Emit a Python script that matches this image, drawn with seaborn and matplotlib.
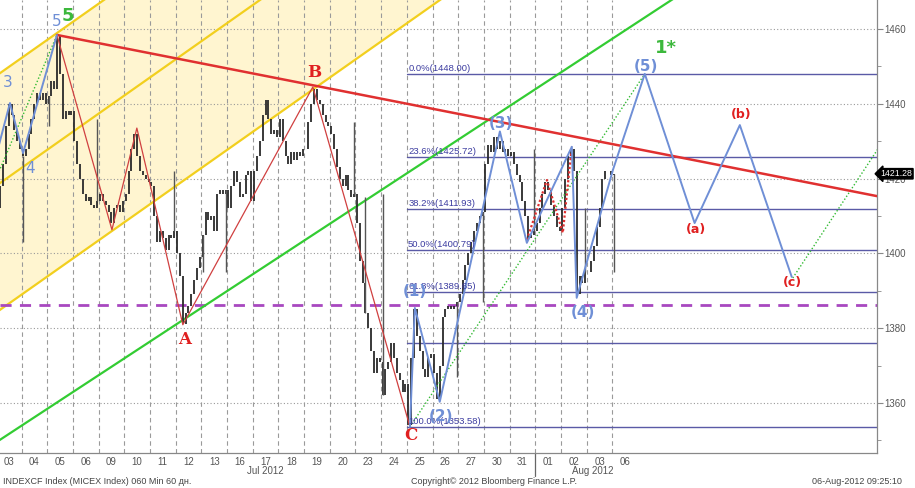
import matplotlib
matplotlib.use("Agg")
import matplotlib.pyplot as plt
import matplotlib.transforms as mtransforms
import seaborn as sns
import pandas as pd

# trading days (hourly bars, 9 per day)
day_labels = ['03', '04', '05', '06', '09', '10', '11', '12', '13', '16', '17', '18', '19',
              '20', '23', '24', '25', '26', '27', '30', '31', '01', '02', '03', '06']
closes = [
    [1412, 1418, 1424, 1434, 1440, 1437, 1433, 1430, 1428],
    [1426, 1428, 1432, 1436, 1440, 1443, 1441, 1443, 1440],
    [1442, 1446, 1444, 1458, 1448, 1436, 1438, 1437, 1438],
    [1430, 1424, 1420, 1416, 1414, 1415, 1413, 1412, 1414],
    [1416, 1414, 1413, 1411, 1408, 1412, 1413, 1411, 1414],
    [1416, 1422, 1428, 1432, 1426, 1422, 1421, 1420, 1419],
    [1418, 1410, 1403, 1406, 1404, 1401, 1405, 1404, 1406],
    [1400, 1394, 1381, 1384, 1386, 1389, 1393, 1396, 1399],
    [1405, 1411, 1409, 1410, 1406, 1416, 1417, 1416, 1417],
    [1412, 1418, 1422, 1419, 1415, 1416, 1421, 1422, 1414],
    [1422, 1426, 1430, 1437, 1441, 1436, 1432, 1433, 1431],
    [1436, 1430, 1426, 1424, 1427, 1425, 1427, 1426, 1428],
    [1428, 1435, 1440, 1444, 1441, 1440, 1437, 1435, 1434],
    [1432, 1428, 1423, 1420, 1418, 1421, 1417, 1415, 1416],
    [1408, 1398, 1392, 1384, 1380, 1374, 1368, 1372, 1371],
    [1362, 1369, 1371, 1376, 1372, 1368, 1366, 1363, 1365],
    [1354, 1372, 1385, 1378, 1374, 1369, 1367, 1372, 1373],
    [1368, 1361, 1370, 1383, 1385, 1386, 1385, 1386, 1387],
    [1389, 1393, 1397, 1400, 1403, 1406, 1408, 1410, 1411],
    [1424, 1429, 1427, 1431, 1428, 1430, 1427, 1428, 1426],
    [1427, 1424, 1421, 1419, 1414, 1410, 1404, 1405, 1406],
    [1408, 1412, 1416, 1419, 1417, 1413, 1410, 1407, 1406],
    [1412, 1420, 1426, 1428, 1422, 1389, 1394, 1392, 1395],
    [1395, 1398, 1402, 1407, 1412, 1420, 1422, 1422, 1421],
    [1421.28],
]
spike_day = [1, 2, 3, 6, 8, 8, 13, 14, 15, 17, 18, 20, 22, 24]
spike_bar = [0, 0, 8, 8, 0, 8, 8, 3, 0, 8, 8, 8, 8, 0]
spike_price = [1403, 1434, 1436, 1422, 1395, 1395, 1435, 1415, 1416, 1367, 1387, 1428, 1412, 1395]
last_price = 1421.28

# fibonacci retracement
fib_labels = ['0.0%', '23.6%', '38.2%', '50.0%', '61.8%', '100.0%']
fib_levels = [1448.00, 1425.72, 1411.93, 1400.79, 1389.65, 1353.58]
extra_level = 1376.0
support_level = 1386.2

# wave counts (day position, price)
blue1_x = [0.1, 0.55, 1.06, 2.38]
blue1_y = [1428.4, 1440.2, 1426.8, 1458.4]
blue2_x = [16.12, 16.31, 17.28, 19.62, 20.67, 22.42, 22.61, 24.02, 25.26, 27.2, 28.96, 30.98]
blue2_y = [1353.6, 1385.4, 1360.3, 1432.6, 1402.8, 1428.5, 1388.1, 1422.3, 1448.0, 1408.1, 1434.3, 1393.7]
red_zz_x = [2.38, 4.52, 5.49, 7.28, 12.34, 16.12]
red_zz_y = [1458.4, 1406.3, 1433.5, 1380.9, 1444.5, 1353.6]
red_dot_x = [20.67, 21.45, 22.07, 22.42]
red_dot_y = [1403.6, 1419.6, 1405.5, 1428.5]
red_trend_x = [2.38, 34.3]
red_trend_y = [1458.4, 1415.3]
chan_x = [0.0, 18.0]
chan_upper = [1447.4, 1534.5]
chan_mid = [1418.0, 1505.1]
chan_lower = [1384.1, 1471.2]
green_x = [0.0, 30.0]
green_y = [1349.4, 1484.4]
gdot1_x, gdot1_y = [0.1, 2.38], [1421.5, 1458.4]
gdot2_x, gdot2_y = [16.12, 25.26], [1353.6, 1448.0]
gdot3_x, gdot3_y = [31.02, 34.4], [1393.4, 1428.6]

labels = [
    ('3', 0.47, 1445.8, '#6f8fd6', 11, 'normal', 'sans'),
    ('4', 1.33, 1422.8, '#6f8fd6', 11, 'normal', 'sans'),
    ('5', 2.36, 1461.9, '#6f8fd6', 11, 'normal', 'sans'),
    ('5', 2.80, 1463.6, '#3cb83c', 13, 'bold', 'sans'),
    ('A', 7.36, 1377.0, '#e02020', 12, 'bold', 'serif'),
    ('B', 12.38, 1448.4, '#e02020', 12, 'bold', 'serif'),
    ('C', 16.16, 1351.2, '#e02020', 12, 'bold', 'serif'),
    ('(1)', 16.31, 1389.7, '#6f8fd6', 11, 'bold', 'sans'),
    ('(2)', 17.32, 1356.3, '#6f8fd6', 11, 'bold', 'sans'),
    ('(3)', 19.66, 1434.6, '#6f8fd6', 11, 'bold', 'sans'),
    ('(4)', 22.85, 1384.3, '#6f8fd6', 11, 'bold', 'sans'),
    ('(5)', 25.3, 1450.0, '#6f8fd6', 11, 'bold', 'sans'),
    ('1*', 26.1, 1455.0, '#3cb83c', 13, 'bold', 'sans'),
    ('(a)', 27.24, 1406.4, '#e02020', 9, 'bold', 'sans'),
    ('(b)', 29.0, 1437.2, '#e02020', 9, 'bold', 'sans'),
    ('(c)', 31.02, 1392.2, '#e02020', 9, 'bold', 'sans'),
]

sns.set_style('white')
plt.rcParams['font.family'] = ['Liberation Sans', 'DejaVu Sans']

fig = plt.figure(figsize=(9.15, 4.88), dpi=100)
ax = fig.add_axes([0.0, 0.0717, 0.9585, 0.9283])
ax.set_xlim(0.163, 34.3)
ax.set_ylim(1346.6, 1467.75)

# channel fill and lines
ax.fill_between(chan_x, chan_lower, chan_upper, color='#fff5d0', zorder=0, lw=0)
for cy in (chan_upper, chan_mid, chan_lower):
    ax.plot(chan_x, cy, color='#f2cf1e', lw=1.6, zorder=2)

# grid
ax.set_yticks(range(1360, 1461, 20))
ax.set_yticks(range(1350, 1461, 10), minor=True)
ax.grid(axis='y', which='major', linestyle=(0, (1, 2)), color='#999999', lw=0.8, zorder=1)
for b in range(1, len(day_labels)):
    ax.axvline(b, color='#9a9a9a', lw=0.8, linestyle=(0, (4, 3)), zorder=1)

# price bars
rows = []
prev = closes[0][0]
for d, day in enumerate(closes):
    for i, c in enumerate(day):
        rows.append({'x': d + (i + 0.5) / 9, 'open': prev, 'close': c})
        prev = c
bars = pd.DataFrame(rows)
ax.vlines(bars['x'], bars[['open', 'close']].min(axis=1), bars[['open', 'close']].max(axis=1),
          color='#2a2a2a', lw=1.3, zorder=3)
sx = [d + (b + 0.5) / 9 for d, b in zip(spike_day, spike_bar)]
sbase = [closes[d][b] for d, b in zip(spike_day, spike_bar)]
ax.vlines(sx, [min(a, b) for a, b in zip(sbase, spike_price)],
          [max(a, b) for a, b in zip(sbase, spike_price)], color='#555555', lw=1.0, zorder=3)

# fib levels
for lab, lv in zip(fib_labels, fib_levels):
    ax.plot([16.0, 34.3], [lv, lv], color='#5a5aa6', lw=1.0, zorder=2)
    ax.text(16.05, lv + 0.3, f'{lab}({lv:.2f})', color='#3c3ca0', fontsize=6.8, va='bottom', ha='left', zorder=5)
ax.plot([16.0, 34.3], [extra_level, extra_level], color='#5a5aa6', lw=1.0, zorder=2)
ax.axhline(support_level, color='#a848c0', lw=2.0, linestyle=(0, (4, 3)), zorder=2)

# trend lines
ax.plot(green_x, green_y, color='#33cc33', lw=1.6, zorder=2)
for gx, gy in ((gdot1_x, gdot1_y), (gdot2_x, gdot2_y), (gdot3_x, gdot3_y)):
    ax.plot(gx, gy, color='#33bb33', lw=1.0, linestyle=(0, (1, 1.5)), zorder=4)
ax.plot(red_trend_x, red_trend_y, color='#e03030', lw=1.8, zorder=4)
ax.plot(red_zz_x, red_zz_y, color='#d04040', lw=0.9, zorder=4)
ax.plot(red_dot_x, red_dot_y, color='#e03030', lw=1.6, linestyle=(0, (1, 1)), zorder=4)
sns.lineplot(x=blue1_x, y=blue1_y, sort=False, estimator=None, color='#6f8fd6', lw=1.4, ax=ax, zorder=4)
sns.lineplot(x=blue2_x, y=blue2_y, sort=False, estimator=None, color='#6f8fd6', lw=1.4, ax=ax, zorder=4)

for txt, lx, ly, col, fs, fw, fam in labels:
    family = ['DejaVu Serif'] if fam == 'serif' else ['DejaVu Sans']
    ax.text(lx, ly, txt, color=col, fontsize=fs, fontweight=fw, family=family,
            ha='center', va='center', zorder=6)

# axes styling
ax.yaxis.tick_right()
ax.tick_params(axis='y', which='major', direction='out', length=4, colors='#888888',
               labelcolor='#555555', labelsize=7, pad=1)
ax.tick_params(axis='y', which='minor', direction='out', length=3, colors='#888888')
ax.set_xticks([d + 0.5 for d in range(len(day_labels))])
ax.set_xticklabels(day_labels)
ax.set_xticks(range(1, len(day_labels)), minor=True)
ax.tick_params(axis='x', which='major', length=0, labelsize=7, labelcolor='#555555', pad=3)
ax.tick_params(axis='x', which='minor', direction='in', length=4, colors='#888888')
for side in ('top', 'left'):
    ax.spines[side].set_visible(False)
for side in ('bottom', 'right'):
    ax.spines[side].set_color('#888888')
    ax.spines[side].set_linewidth(0.9)
ax.set_xlabel('')
ax.set_ylabel('')

trans = mtransforms.blended_transform_factory(ax.transData, ax.transAxes)
ax.plot([21, 21], [0, -0.05], color='#666666', lw=0.9, transform=trans, clip_on=False)
ax.text(10.5, -0.029, 'Jul 2012', transform=trans, ha='center', va='top', fontsize=7, color='#555555')
ax.text(23.25, -0.029, 'Aug 2012', transform=trans, ha='center', va='top', fontsize=7, color='#555555')

ax.annotate(f'{last_price:.2f}', xy=(1.0, last_price), xycoords=('axes fraction', 'data'),
            xytext=(2.5, 0), textcoords='offset points', ha='left', va='center', fontsize=6.3,
            color='white', bbox=dict(boxstyle='larrow,pad=0.08', fc='black', ec='black'), zorder=7,
            annotation_clip=False)

fig.text(0.003, 0.008, 'INDEXCF Index (MICEX Index) 060 Min 60 дн.', fontsize=6.5, color='#444444')
fig.text(0.54, 0.008, 'Copyright\u00a9 2012 Bloomberg Finance L.P.', fontsize=6.5, color='#444444', ha='center')
fig.text(0.986, 0.008, '06-Aug-2012 09:25:10', fontsize=6.5, color='#444444', ha='right')

fig.savefig('out.png', dpi=100)
